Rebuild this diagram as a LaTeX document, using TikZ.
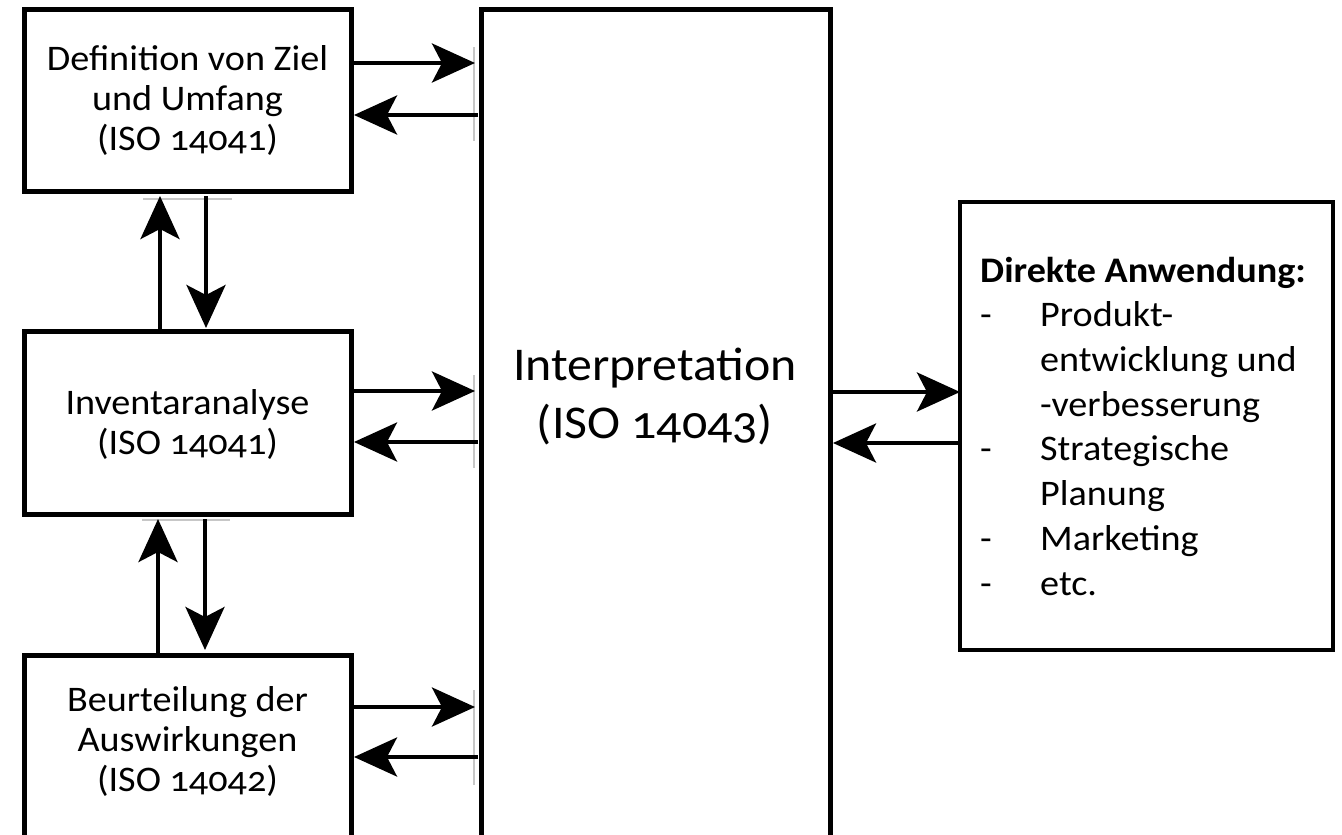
\documentclass[tikz,border=0pt]{standalone}
\usepackage{fontspec}
\setmainfont[Numbers=OldStyle, FakeStretch=1.06]{Carlito}
\usetikzlibrary{arrows.meta}

\tikzset{
  box/.style={draw, line width=5pt, rectangle, inner sep=0pt, outer sep=0pt},
  sidebox/.style={draw, line width=4.5pt, rectangle, inner sep=0pt, outer sep=0pt},
  lbl/.style={align=center, inner sep=0pt, font=\fontsize{36}{40}\selectfont},
  arr/.style={line width=4pt, -{Stealth[length=43pt, width=39pt, inset=10pt]}},
  ghost/.style={draw=black!22, line width=1.5pt}
}

\begin{document}
\begin{tikzpicture}[x=1pt, y=-1pt]
\useasboundingbox (0,0) rectangle (1342,835);

% left column: the three phases
\node[box, minimum width=327pt, minimum height=182pt] (def) at (187.5,100) {};
\node[lbl] (deftext) at (187.5,100) {Definition von Ziel\\und Umfang\\(ISO 14041)};
\node[box, minimum width=327pt, minimum height=183pt] (inv) at (187.5,422.5) {};
\node[lbl] (invtext) at (187.5,424) {Inventaranalyse\\(ISO 14041)};
\node[box, minimum width=327pt, minimum height=200pt] (bew) at (187.5,755) {};
\node[lbl] (bewtext) at (187.5,741) {Beurteilung der\\Auswirkungen\\(ISO 14042)};

% interpretation column
\node[box, minimum width=349pt, minimum height=900pt] (int) at (655.5,459) {};
\node[align=center, inner sep=0pt, font=\fontsize{47}{58}\selectfont] (inttext) at (655,397)
  {Interpretation\\(ISO 14043)};

% direct applications (base anchor = baseline of the last line)
\node[sidebox, minimum width=373pt, minimum height=448pt] (app) at (1146.5,426) {};
\node[anchor=base west, align=left, inner sep=0pt, font=\fontsize{36}{44.7}\selectfont] (apptext) at (980,595)
  {\textbf{Direkte Anwendung:}\\
   \makebox[60pt][l]{-}Produkt-\\
   \hspace*{60pt}entwicklung und\\
   \hspace*{60pt}-verbesserung\\
   \makebox[60pt][l]{-}Strategische\\
   \hspace*{60pt}Planung\\
   \makebox[60pt][l]{-}Marketing\\
   \makebox[60pt][l]{-}etc.};

% helper heights and columns
\coordinate (h1a) at (0,63);   \coordinate (h1b) at (0,115);
\coordinate (h2a) at (0,391);  \coordinate (h2b) at (0,442);
\coordinate (h3a) at (0,707);  \coordinate (h3b) at (0,757);
\coordinate (hra) at (0,392);  \coordinate (hrb) at (0,443);
\coordinate (vu1) at (160,0);  \coordinate (vd1) at (206,0);
\coordinate (vu2) at (158,0);  \coordinate (vd2) at (205,0);

% faint guide strokes beside the arrow pairs
\draw[ghost] (474,47) -- (474,141);
\draw[ghost] (474,375) -- (474,468);
\draw[ghost] (474,690) -- (474,785);
\draw[ghost] (143,199) -- (232,199);
\draw[ghost] (142,520) -- (230,520);

% phase <-> interpretation
\draw[arr, shorten <=3pt, shorten >=6pt] (def.east |- h1a) -- (int.west |- h1a);
\draw[arr, shorten <=3pt, shorten >=3pt] (int.west |- h1b) -- (def.east |- h1b);
\draw[arr, shorten <=3pt, shorten >=6pt] (inv.east |- h2a) -- (int.west |- h2a);
\draw[arr, shorten <=3pt, shorten >=3pt] (int.west |- h2b) -- (inv.east |- h2b);
\draw[arr, shorten <=3pt, shorten >=6pt] (bew.east |- h3a) -- (int.west |- h3a);
\draw[arr, shorten <=3pt, shorten >=3pt] (int.west |- h3b) -- (bew.east |- h3b);

% phase <-> phase
\draw[arr, shorten >=5pt] (inv.north -| vu1) -- (def.south -| vu1);
\draw[arr, shorten <=5pt, shorten >=3pt] (def.south -| vd1) -- (inv.north -| vd1);
\draw[arr, shorten >=5pt] (bew.north -| vu2) -- (inv.south -| vu2);
\draw[arr, shorten <=5pt, shorten >=5pt] (inv.south -| vd2) -- (bew.north -| vd2);

% interpretation <-> application
\draw[arr, shorten <=3pt] (int.east |- hra) -- (app.west |- hra);
\draw[arr, shorten >=3pt] (app.west |- hrb) -- (int.east |- hrb);
\end{tikzpicture}
\end{document}
